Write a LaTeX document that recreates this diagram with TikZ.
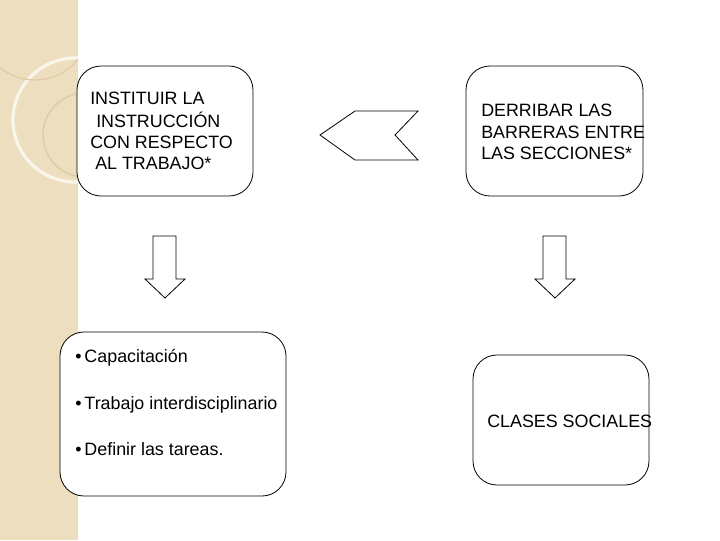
\documentclass[tikz,border=0pt]{standalone}
\usepackage{fontspec}
\setmainfont{Liberation Sans}
\begin{document}
\begin{tikzpicture}[x=0.75pt,y=-0.75pt,
  box/.style={draw=black,fill=white,rounded corners=18pt,line width=0.6pt},
  arr/.style={draw=black,fill=white,line width=0.6pt},
  txt/.style={anchor=west,inner sep=0pt,font=\fontsize{13.4}{15}\selectfont}]
\useasboundingbox (0,0) rectangle (720,540);
\fill[white] (0,0) rectangle (720,540);
\fill[color={rgb,255:red,236;green,222;blue,190}] (0,0) rectangle (78,540);
\begin{scope}
\clip (0,0) rectangle (78,540);
\draw[white,line width=2.5pt,opacity=0.7] (75,120) circle (62);
\draw[color={rgb,255:red,225;green,205;blue,165},line width=1.2pt] (85,135) circle (42);
\draw[color={rgb,255:red,225;green,205;blue,165},line width=1pt] (35,25) circle (55);
\end{scope}
\path[box] (77,66) rectangle (253,196);
\path[box] (466,66) rectangle (643,196);
\path[box] (60,332) rectangle (286,496);
\path[box] (473,355) rectangle (649,485);
\node[txt] (a1) at (90,98) {INSTITUIR LA};
\node[txt] (a2) at (96,120) {INSTRUCCIÓN};
\node[txt] (a3) at (90,142) {CON RESPECTO};
\node[txt] (a4) at (95,163) {AL TRABAJO*};
\node[txt] (b1) at (481,110) {DERRIBAR LAS};
\node[txt] (b2) at (481,132) {BARRERAS ENTRE};
\node[txt] (b3) at (481,153) {LAS SECCIONES*};
\node[txt] (c1) at (75,358) {•\,Capacitación};
\node[txt] (c2) at (75,405) {•\,Trabajo interdisciplinario};
\node[txt] (c3) at (75,449) {•\,Definir las tareas.};
\node[txt] (d1) at (487,421) {CLASES SOCIALES};
\path[arr] (320,135) -- (355,111) -- (418,111) -- (395,135) -- (418,160) -- (355,160) -- cycle;
\path[arr] (153,236) -- (176,236) -- (176,279) -- (185,279) -- (165,298) -- (145,279) -- (153,279) -- cycle;
\path[arr] (543,236) -- (566,236) -- (566,279) -- (575,279) -- (555,298) -- (535,279) -- (543,279) -- cycle;
\end{tikzpicture}
\end{document}
